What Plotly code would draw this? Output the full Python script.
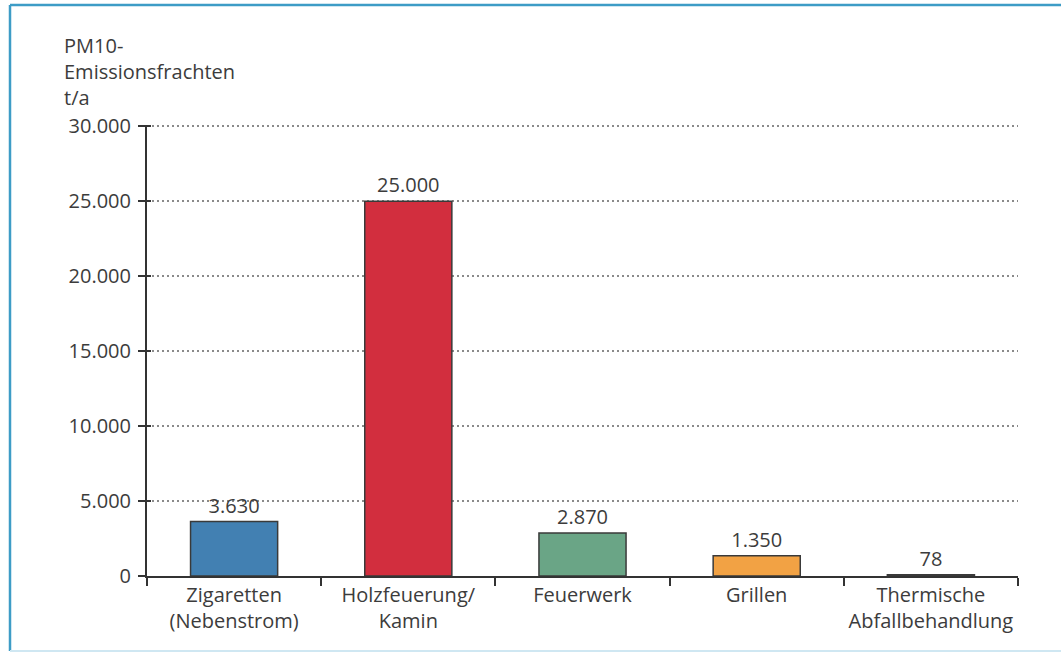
import plotly.graph_objects as go

# PM10 emission loads per source, tonnes per year
categories = [
    "Zigaretten<br>(Nebenstrom)",
    "Holzfeuerung/<br>Kamin",
    "Feuerwerk",
    "Grillen",
    "Thermische<br>Abfallbehandlung",
]
values = [3630, 25000, 2870, 1350, 78]
bar_colors = ["#4280b2", "#d22e3e", "#6aa586", "#f2a244", "#4a4a4a"]

y_ticks = [0, 5000, 10000, 15000, 20000, 25000, 30000]
y_range = [0, 30080]

W, H = 1061, 654
L, R, T, B = 147, 43, 125, 78
pw, ph = W - L - R, H - T - B


def px(x):
    return (x - L) / pw


def py(y):
    return (H - B - y) / ph


text_col = "#3c3c3c"
axis_col = "#333333"
font_family = "Open Sans, Noto Sans, sans-serif"
fs = 20

fig = go.Figure()
fig.add_trace(
    go.Bar(
        x=categories,
        y=values,
        width=0.5,
        marker=dict(color=bar_colors, line=dict(color="#3a3a3a", width=1.5)),
        texttemplate="%{y:,d}",
        textposition="outside",
        textfont=dict(size=fs, color=text_col, family=font_family),
        cliponaxis=False,
        hoverinfo="skip",
    )
)
# invisible companion trace so the inner tick axis is drawn
fig.add_trace(
    go.Scatter(
        x=categories[:1], y=[0], yaxis="y2", mode="markers",
        marker=dict(opacity=0), hoverinfo="skip",
    )
)

fig.update_layout(
    width=W,
    height=H,
    margin=dict(l=L, r=R, t=T, b=B),
    paper_bgcolor="white",
    plot_bgcolor="white",
    separators=",.",
    showlegend=False,
    font=dict(family=font_family, size=fs, color=text_col),
    xaxis=dict(
        type="category",
        tickson="boundaries",
        ticks="outside",
        ticklen=8,
        tickwidth=2,
        tickcolor=axis_col,
        tickangle=0,
        showline=True,
        linecolor=axis_col,
        linewidth=2,
        showgrid=False,
        tickfont=dict(size=fs, color=text_col),
    ),
    yaxis=dict(
        range=y_range,
        tickvals=y_ticks,
        tickformat=",d",
        ticks="outside",
        ticklen=7,
        tickwidth=2,
        tickcolor=axis_col,
        showline=True,
        linecolor=axis_col,
        linewidth=2,
        showgrid=True,
        gridcolor="#8a8a8a",
        gridwidth=2,
        griddash="2px,3px",
        zeroline=False,
        ticklabelstandoff=3,
        tickfont=dict(size=fs, color=text_col),
    ),
    yaxis2=dict(
        overlaying="y", side="left", range=y_range, tickvals=y_ticks,
        ticks="inside", ticklen=4, tickwidth=2, tickcolor=axis_col,
        showticklabels=False, showgrid=False, zeroline=False, showline=False,
    ),
)

# y-axis title block in the upper left corner
fig.add_annotation(
    text="PM10-<br>Emissionsfrachten<br>t/a",
    xref="paper", yref="paper",
    x=px(62), y=py(30),
    xanchor="left", yanchor="top",
    align="left",
    showarrow=False,
    font=dict(size=fs, color=text_col),
)

# blue frame around the figure
frame = "#3d9cc6"
fig.add_shape(type="line", xref="paper", yref="paper",
              x0=px(10), x1=px(W + 5), y0=py(5), y1=py(5),
              line=dict(color=frame, width=2.5))
fig.add_shape(type="line", xref="paper", yref="paper",
              x0=px(10), x1=px(10), y0=py(5), y1=py(651),
              line=dict(color=frame, width=2.5))
fig.add_shape(type="line", xref="paper", yref="paper",
              x0=px(10), x1=px(W + 5), y0=py(651), y1=py(651),
              line=dict(color="#cfe7f2", width=2))

fig.write_html("out.html")
